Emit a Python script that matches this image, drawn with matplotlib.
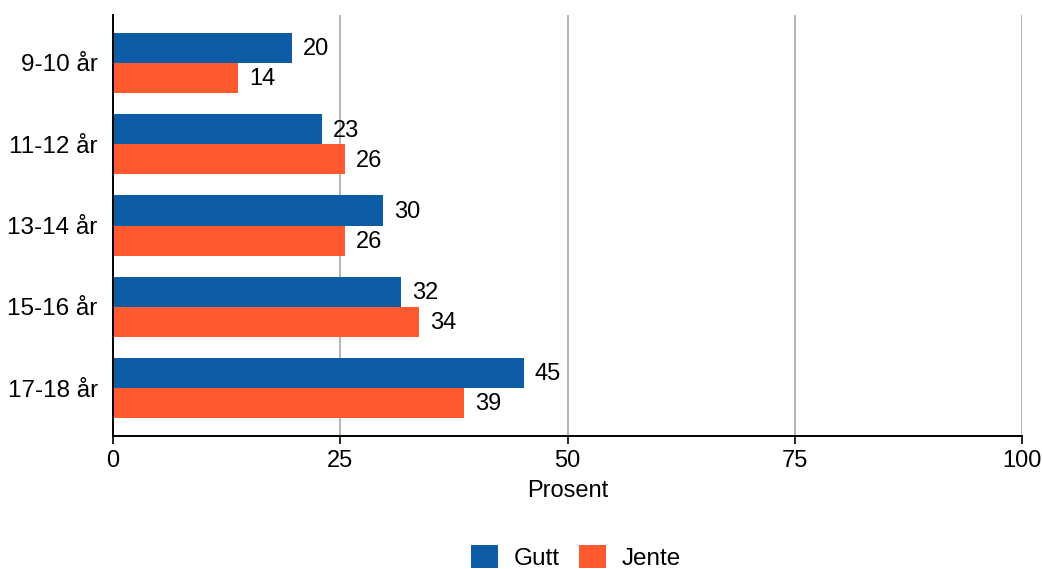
import matplotlib.pyplot as plt
import numpy as np

plt.rcParams['font.family'] = ['Liberation Sans', 'DejaVu Sans']

categories = ['9-10 år', '11-12 år', '13-14 år', '15-16 år', '17-18 år']
gutt = [19.7, 23.0, 29.7, 31.7, 45.2]
jente = [13.8, 25.5, 25.5, 33.7, 38.6]
gutt_labels = ['20', '23', '30', '32', '45']
jente_labels = ['14', '26', '26', '34', '39']

blue = '#0d5ca6'
orange = '#ff5a2f'

fig = plt.figure(figsize=(10.42, 5.69), dpi=100)
ax = fig.add_axes([113/1042, 133/569, 909/1042, 421/569])

y = np.arange(len(categories))
h = 0.37
b1 = ax.barh(y - h/2, gutt, height=h, color=blue, label='Gutt', zorder=3)
b2 = ax.barh(y + h/2, jente, height=h, color=orange, label='Jente', zorder=3)

for bars, labs in ((b1, gutt_labels), (b2, jente_labels)):
    for bar, lab in zip(bars, labs):
        ax.annotate(lab, (bar.get_width(), bar.get_y() + bar.get_height()/2),
                    xytext=(8, -1), textcoords='offset points',
                    ha='left', va='center', fontsize=17)

ax.set_xlim(0, 100)
ax.set_ylim(len(categories) - 1 + 0.59, -0.59)
ax.set_yticks(y)
ax.set_yticklabels(categories, fontsize=17.5)
ax.set_xticks([0, 25, 50, 75, 100])
ax.tick_params(axis='x', labelsize=17, length=6, width=1.2, pad=4)
ax.tick_params(axis='y', length=0, pad=11)
ax.set_xlabel('Prosent', fontsize=17, labelpad=6)

ax.grid(axis='x', color='#b4b4b4', linewidth=1.4, zorder=0)
ax.set_axisbelow(True)
for s in ('top', 'right'):
    ax.spines[s].set_visible(False)
for s in ('left', 'bottom'):
    ax.spines[s].set_linewidth(1.4)
    ax.spines[s].set_zorder(4)

fig.legend(handles=[b1, b2], loc='center', bbox_to_anchor=(0.553, 0.02),
           ncol=2, frameon=False, fontsize=17.5, handlelength=1.1,
           handleheight=1.1, columnspacing=0.8, handletextpad=0.65)

fig.savefig('out.png', dpi=100, facecolor='white')
